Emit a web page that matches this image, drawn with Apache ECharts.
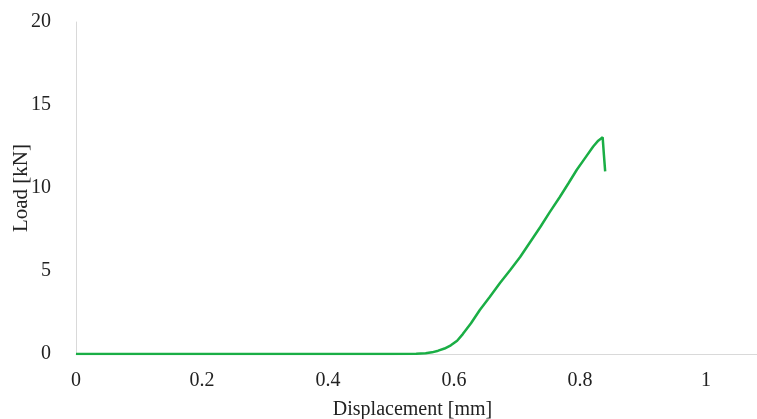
<!DOCTYPE html>
<html>
<head>
<meta charset="utf-8">
<script src="https://cdn.jsdelivr.net/npm/echarts@6/dist/echarts.min.js"></script>
<style>
  html, body { margin: 0; padding: 0; background: #fff; }
  #chart { width: 757px; height: 419px; }
</style>
</head>
<body>
<div id="chart"></div>
<script>
// load-displacement curve
const displacement = [0, 0.1, 0.2, 0.3, 0.4, 0.5, 0.54, 0.555, 0.565, 0.575, 0.585, 0.595,
  0.605, 0.614, 0.627, 0.641, 0.657, 0.673, 0.689, 0.705, 0.721, 0.737, 0.752, 0.768,
  0.782, 0.795, 0.808, 0.821, 0.829, 0.836, 0.838, 0.84];
const load = [0, 0, 0, 0, 0, 0, 0.01, 0.04, 0.1, 0.2, 0.33, 0.52,
  0.8, 1.2, 1.85, 2.65, 3.45, 4.28, 5.05, 5.84, 6.75, 7.65, 8.55, 9.46,
  10.3, 11.1, 11.8, 12.5, 12.85, 13.05, 12.0, 11.0];

const xTicks = [0, 0.2, 0.4, 0.6, 0.8, 1];
const yTicks = [0, 5, 10, 15, 20];

const font = '"Liberation Serif", "Times New Roman", serif';
const chart = echarts.init(document.getElementById('chart'));

chart.setOption({
  animation: false,
  grid: { left: 76, right: 0, top: 22, bottom: 65, outerBoundsMode: 'none', containLabel: false },
  xAxis: {
    type: 'value',
    min: 0,
    max: 1.081,
    interval: 0.2,
    name: 'Displacement [mm]',
    nameLocation: 'middle',
    nameGap: 46,
    nameMoveOverlap: false,
    nameTextStyle: { fontFamily: font, fontSize: 20, color: '#222', padding: [0, 8, 0, 0] },
    axisLine: { lineStyle: { color: '#d9d9d9', width: 1 } },
    axisTick: { show: false },
    splitLine: { show: false },
    axisLabel: {
      fontFamily: font, fontSize: 20, color: '#222', margin: 17,
      showMaxLabel: false,
      formatter: v => xTicks.some(t => Math.abs(t - v) < 1e-6) ? String(+v.toFixed(1)) : ''
    }
  },
  yAxis: {
    type: 'value',
    min: 0,
    max: 20,
    interval: 5,
    name: 'Load [kN]',
    nameLocation: 'middle',
    nameGap: 44,
    nameMoveOverlap: false,
    nameTextStyle: { fontFamily: font, fontSize: 21, color: '#222' },
    axisLine: { show: true, lineStyle: { color: '#d9d9d9', width: 1 } },
    axisTick: { show: false },
    splitLine: { show: false },
    axisLabel: {
      fontFamily: font, fontSize: 20, color: '#222', margin: 25,
      formatter: v => yTicks.includes(v) ? String(v) : ''
    }
  },
  series: [{
    type: 'line',
    data: displacement.map((x, i) => [x, load[i]]),
    showSymbol: false,
    lineStyle: { color: '#1aae45', width: 2.5 },
    itemStyle: { color: '#1aae45' }
  }]
});
</script>
</body>
</html>
